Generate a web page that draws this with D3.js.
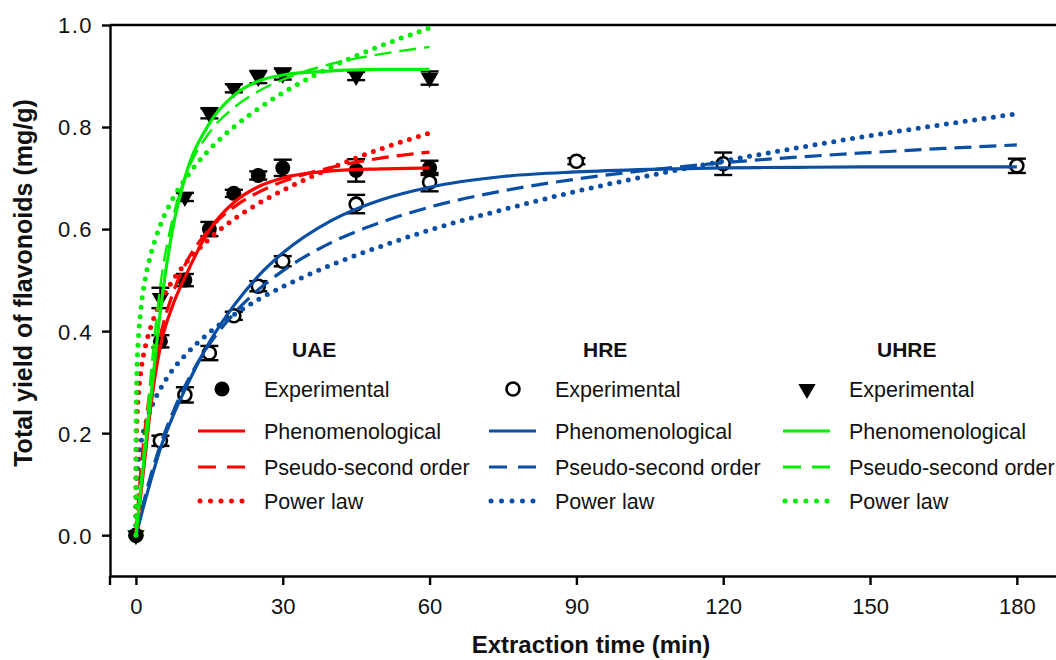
<!DOCTYPE html>
<html>
<head>
<meta charset="utf-8">
<script src="https://cdn.jsdelivr.net/npm/d3@7"></script>
<style>
  html, body { margin: 0; padding: 0; background: #fff; }
  svg { display: block; font-family: 'Liberation Sans', Arial, sans-serif; }
</style>
</head>
<body>
<svg id="chart" width="1056" height="660"></svg>
<script>
// experimental points
const tExp60 = [0, 5, 10, 15, 20, 25, 30, 45, 60];
const tExp180 = [0, 5, 10, 15, 20, 25, 30, 45, 60, 90, 120, 180];
const uaeExp = [0, 0.38, 0.50, 0.60, 0.67, 0.705, 0.72, 0.715, 0.72];
const uaeErr = [0.005, 0.012, 0.012, 0.014, 0.007, 0.008, 0.016, 0.022, 0.014];
const hreExp = [0, 0.185, 0.275, 0.357, 0.43, 0.488, 0.537, 0.649, 0.692, 0.733, 0.728, 0.724];
const hreErr = [0.005, 0.01, 0.015, 0.014, 0.008, 0.01, 0.01, 0.018, 0.018, 0.006, 0.022, 0.014];
const uhreExp = [0, 0.465, 0.663, 0.827, 0.876, 0.898, 0.904, 0.90, 0.896];
const uhreErr = [0.005, 0.02, 0.008, 0.01, 0.008, 0.012, 0.011, 0.008, 0.013];

// fitted curves
const tFit60 = [0, 1, 2, 3, 5, 7.5, 10, 15, 20, 25, 30, 40, 50, 60];
const tPow60 = [0, 0.05, 0.25, 0.5, 1, 2, 3, 5, 7.5, 10, 15, 20, 25, 30, 40, 50, 60];
const tFit180 = [0, 1, 2, 3, 5, 7.5, 10, 15, 20, 25, 30, 40, 50, 60, 75, 90, 105, 120, 135, 150, 165, 180];
const tPow180 = [0, 0.05, 0.25, 0.5, 1, 2, 3, 5, 7.5, 10, 15, 20, 25, 30, 40, 50, 60, 75, 90, 105, 120, 135, 150, 165, 180];

const uaePhen = [0, 0.08, 0.165, 0.25, 0.37, 0.45, 0.505, 0.598, 0.652, 0.683, 0.70, 0.714, 0.718, 0.72];
const uaePso = [0, 0.126, 0.219, 0.29, 0.391, 0.473, 0.529, 0.60, 0.643, 0.672, 0.693, 0.721, 0.739, 0.751];
const uaePow = [0, 0.166, 0.236, 0.275, 0.32, 0.373, 0.407, 0.456, 0.499, 0.531, 0.581, 0.619, 0.65, 0.676, 0.72, 0.757, 0.788];

const hrePhen = [0, 0.036, 0.072, 0.106, 0.17, 0.232, 0.285, 0.378, 0.45, 0.508, 0.553, 0.617, 0.657, 0.682, 0.703, 0.712, 0.717, 0.72, 0.721, 0.722, 0.722, 0.722];
const hrePso = [0, 0.042, 0.081, 0.116, 0.177, 0.24, 0.292, 0.374, 0.434, 0.481, 0.518, 0.574, 0.613, 0.643, 0.675, 0.698, 0.716, 0.73, 0.741, 0.75, 0.758, 0.765];
const hrePow = [0, 0.074, 0.119, 0.146, 0.179, 0.219, 0.247, 0.287, 0.324, 0.352, 0.397, 0.432, 0.462, 0.487, 0.53, 0.566, 0.598, 0.638, 0.674, 0.705, 0.733, 0.759, 0.783, 0.805, 0.826];

const uhrePhen = [0, 0.09, 0.18, 0.265, 0.44, 0.60, 0.70, 0.807, 0.862, 0.89, 0.902, 0.91, 0.913, 0.913];
const uhrePso = [0, 0.10, 0.205, 0.31, 0.49, 0.62, 0.70, 0.789, 0.838, 0.87, 0.893, 0.924, 0.943, 0.957];
const uhrePow = [0, 0.244, 0.336, 0.385, 0.442, 0.507, 0.549, 0.608, 0.659, 0.697, 0.756, 0.80, 0.836, 0.867, 0.918, 0.959, 0.994];

const xTicks = [0, 30, 60, 90, 120, 150, 180];
const yTicks = [0, 0.2, 0.4, 0.6, 0.8, 1.0];
const legendModels = ['Phenomenological', 'Pseudo-second order', 'Power law'];

const RED = '#ff0000', BLUE = '#0a4fa3', GREEN = '#00ee00';

const svg = d3.select('#chart');
const x = d3.scaleLinear().domain([-5.3, 188]).range([110, 1056]);
const y = d3.scaleLinear().domain([-0.08, 1.0]).range([576, 25]);

// axes
const xAxis = svg.append('g').attr('transform', 'translate(0,' + y.range()[0] + ')')
  .call(d3.axisBottom(x).tickValues(xTicks).tickSize(9).tickSizeOuter(0).tickPadding(13));
const yAxis = svg.append('g').attr('transform', 'translate(' + x.range()[0] + ',0)')
  .call(d3.axisLeft(y).tickValues(yTicks).tickSize(8).tickSizeOuter(0).tickPadding(9).tickFormat(d3.format('.1f')));
[xAxis, yAxis].forEach(function(a) {
  a.selectAll('path, line').attr('stroke', '#000').attr('stroke-width', 2.4);
  a.selectAll('text').attr('fill', '#111').style('font-size', '22px').style('font-family', "'Liberation Sans', Arial, sans-serif");
});
yAxis.selectAll('text').attr('dy', '0.36em').style('letter-spacing', '1.5px');
// outer tick at the left end of the x axis and the top frame line
svg.append('line').attr('x1', x.range()[0]).attr('x2', x.range()[0])
  .attr('y1', y.range()[0]).attr('y2', y.range()[0] + 9).attr('stroke', '#000').attr('stroke-width', 2.4);
svg.append('line').attr('x1', x.range()[0]).attr('x2', x.range()[1])
  .attr('y1', y.range()[1]).attr('y2', y.range()[1]).attr('stroke', '#000').attr('stroke-width', 2.4);

svg.append('text').attr('x', 591).attr('y', 653).attr('text-anchor', 'middle')
  .style('font-size', '24px').style('font-weight', 'bold').attr('fill', '#111')
  .text('Extraction time (min)');
svg.append('text').attr('transform', 'translate(32,' + 283 + ') rotate(-90)').attr('text-anchor', 'middle')
  .style('font-size', '25px').style('font-weight', 'bold').attr('fill', '#111')
  .text('Total yield of flavonoids (mg/g)');

// markers
function drawMarker(sel, kind) {
  if (kind === 'filled') {
    sel.append('circle').attr('r', 7.5).attr('fill', '#000');
  } else if (kind === 'open') {
    sel.append('circle').attr('r', 6.5).attr('fill', '#fff').attr('stroke', '#000').attr('stroke-width', 2.6);
  } else {
    sel.append('path').attr('d', d3.symbol(d3.symbolTriangle, 130)()).attr('transform', 'rotate(180)').attr('fill', '#000');
  }
}

const groups = [
  { t: tExp180, v: hreExp, e: hreErr, kind: 'open' },
  { t: tExp60, v: uaeExp, e: uaeErr, kind: 'filled' },
  { t: tExp60, v: uhreExp, e: uhreErr, kind: 'tri' }
];
groups.forEach(function(g) {
  const pts = g.t.map(function(t, i) { return { t: t, v: g.v[i], e: g.e[i] }; });
  const eb = svg.append('g').attr('stroke', '#000').attr('stroke-width', 2.4);
  pts.forEach(function(d) {
    if (d.t === 0) return;
    eb.append('line').attr('x1', x(d.t)).attr('x2', x(d.t)).attr('y1', y(d.v - d.e)).attr('y2', y(d.v + d.e));
    [d.v - d.e, d.v + d.e].forEach(function(v) {
      eb.append('line').attr('x1', x(d.t) - 9).attr('x2', x(d.t) + 9).attr('y1', y(v)).attr('y2', y(v));
    });
  });
  svg.append('g').selectAll('g').data(pts).enter().append('g')
    .attr('transform', function(d) { return 'translate(' + x(d.t) + ',' + y(d.v) + ')'; })
    .each(function() { drawMarker(d3.select(this), g.kind); });
});

// model curves
const styles = {
  solid: { w: 3.2, dash: null, cap: 'butt' },
  dash: { w: 3.2, dash: '17,8', cap: 'butt' },
  dot: { w: 5, dash: '0,9.5', cap: 'round' }
};
const curves = [
  { t: tFit180, v: hrePhen, c: BLUE, s: 'solid' },
  { t: tFit180, v: hrePso, c: BLUE, s: 'dash' },
  { t: tPow180, v: hrePow, c: BLUE, s: 'dot' },
  { t: tFit60, v: uaePhen, c: RED, s: 'solid' },
  { t: tFit60, v: uaePso, c: RED, s: 'dash' },
  { t: tPow60, v: uaePow, c: RED, s: 'dot' },
  { t: tFit60, v: uhrePhen, c: GREEN, s: 'solid' },
  { t: tFit60, v: uhrePso, c: GREEN, s: 'dash', w: 2.4 },
  { t: tPow60, v: uhrePow, c: GREEN, s: 'dot' }
];
const line = d3.line().x(function(d) { return x(d[0]); }).y(function(d) { return y(d[1]); }).curve(d3.curveMonotoneX);
curves.forEach(function(c) {
  const st = styles[c.s];
  svg.append('path').datum(c.t.map(function(t, i) { return [t, c.v[i]]; }))
    .attr('d', line).attr('fill', 'none').attr('stroke', c.c)
    .attr('stroke-width', c.w || st.w).attr('stroke-dasharray', st.dash).attr('stroke-linecap', st.cap);
});

// legend
const legendCols = [
  { title: 'UAE', x: 198, c: RED, kind: 'filled' },
  { title: 'HRE', x: 489, c: BLUE, kind: 'open' },
  { title: 'UHRE', x: 783, c: GREEN, kind: 'tri' }
];
const rowY = [389, 431, 467, 501];
legendCols.forEach(function(col) {
  const g = svg.append('g').attr('transform', 'translate(' + col.x + ',0)');
  g.append('text').attr('x', 94).attr('y', 357).style('font-size', '21px').style('font-weight', 'bold')
    .attr('fill', '#111').text(col.title);
  const m = g.append('g').attr('transform', 'translate(' + 24 + ',' + rowY[0] + ')');
  drawMarker(m, col.kind);
  g.append('text').attr('x', 66).attr('y', rowY[0] + 8).style('font-size', '21.5px').attr('fill', '#111').text('Experimental');
  ['solid', 'dash', 'dot'].forEach(function(s, i) {
    const st = styles[s];
    const yy = rowY[i + 1];
    g.append('line').attr('x1', s === 'dot' ? 2 : 0).attr('x2', s === 'dot' ? 46 : 47).attr('y1', yy).attr('y2', yy)
      .attr('stroke', col.c).attr('stroke-width', st.w).attr('stroke-dasharray', s === 'dash' ? '18,11' : (s === 'dot' ? '0,10.5' : null))
      .attr('stroke-linecap', st.cap);
    g.append('text').attr('x', 66).attr('y', yy + 8).style('font-size', '21.5px').attr('fill', '#111').text(legendModels[i]);
  });
});
</script>
</body>
</html>
